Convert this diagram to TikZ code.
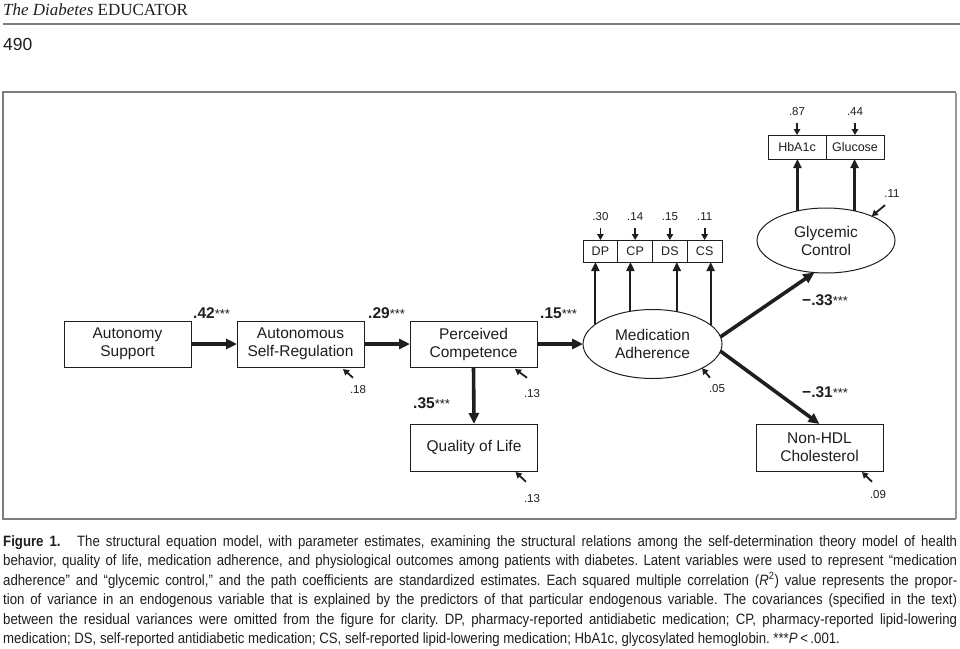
\documentclass[tikz,border=0pt]{standalone}
\usepackage{fontspec}
\setmainfont{Liberation Sans}
\newfontfamily\journalfont{Liberation Serif}
\newfontfamily\captionfont[FakeStretch=0.88]{Liberation Sans}
\usetikzlibrary{shapes.geometric,arrows.meta,positioning,calc}
\definecolor{ink}{RGB}{30,30,30}
\definecolor{rulegray}{RGB}{125,125,125}
\newcommand{\stars}{{\mdseries\fontsize{13}{13}\selectfont ***}}

\begin{document}
\begin{tikzpicture}[x=1pt,y=-1pt,font=\fontsize{15.5}{18}\selectfont]
\tikzset{b/.style={draw=ink,line width=1pt,minimum width=127pt,minimum height=46pt,align=center,text=ink,inner sep=0pt,outer sep=0pt},
  lv/.style={draw=ink,line width=1pt,ellipse,minimum width=139pt,minimum height=69pt,align=center,text=ink,inner sep=0pt,outer sep=0pt},
  ind/.style={draw=ink,line width=1pt,minimum width=34.75pt,minimum height=22pt,inner sep=0pt,outer sep=0pt,text=ink,font=\fontsize{12.5}{14}\selectfont},
  pth/.style={-{Triangle[length=11pt,width=10pt]},line width=3.6pt,ink},
  load/.style={-{Triangle[length=9pt,width=8pt]},line width=1.9pt,ink},
  res/.style={-{Triangle[length=6pt,width=6.5pt]},line width=1.8pt,ink},
  coef/.style={anchor=base west,inner sep=0pt,font=\bfseries\fontsize{15.5}{15.5}\selectfont,text=ink},
  err/.style={inner sep=0pt,font=\fontsize{11.5}{11.5}\selectfont,text=ink}}
\useasboundingbox (0,0) rectangle (960,648);

% page head
\node[anchor=base west,inner sep=0pt,font=\journalfont\fontsize{17}{17}\selectfont,text=ink] (jrnl) at (3,15) {\textit{The Diabetes} EDUCATOR};
\draw[rulegray,line width=1.5pt] (3,24) -- (960,24);
\node[anchor=base west,inner sep=0pt,font=\fontsize{17.5}{17.5}\selectfont,text=ink] (page) at (3,50.5) {490};
\draw[rulegray,line width=1.3pt] (3,92) rectangle (955.5,519);
\draw[rulegray!80,line width=2.2pt] (956,93) -- (956,519);

% model
\node[b] (as) at (127.5,344) {Autonomy\\Support};
\node[b] (asr) at (300.5,344) {Autonomous\\Self-Regulation};
\node[b] (pc) at (473.5,344) {Perceived\\Competence};
\node[lv] (ma) at (652.5,344) {Medication\\Adherence};
\node[b,minimum height=47pt] (qol) at (474,447.5) {Quality of Life};
\node[b,minimum height=47pt] (nhdl) at (819.5,447.5) {Non-HDL\\Cholesterol};
\node[lv,minimum width=138pt,minimum height=65pt] (gc) at (826,240.5) {Glycemic\\Control};

% indicators
\node[ind] (dp) at (600.4,251) {DP};
\node[ind,right=0pt of dp] (cp) {CP};
\node[ind,right=0pt of cp] (ds) {DS};
\node[ind,right=0pt of ds] (cs) {CS};
\node[ind,minimum width=58pt,minimum height=24pt] (hba) at (797,147) {HbA1c};
\node[ind,minimum width=58pt,minimum height=24pt,right=0pt of hba] (glu) {Glucose};

% paths
\draw[pth] (as) -- (asr);
\draw[pth] (asr) -- (pc);
\draw[pth] (pc) -- (ma);
\draw[pth] (pc.south) -- (qol.north);
\draw[pth] (ma.6) -- (gc.250);
\draw[pth] (ma.-6) -- (nhdl.north);
\node[coef] (c1) at (193,318) {.42\stars};
\node[coef] (c2) at (368,318) {.29\stars};
\node[coef] (c3) at (540,318) {.15\stars};
\node[coef] (c4) at (413,408) {.35\stars};
\node[coef] (c5) at (802,305) {−.33\stars};
\node[coef] (c6) at (802,397) {−.31\stars};

% loadings
\draw[load] (ma.161) -- (ma.161 |- dp.south);
\draw[load] (ma.124) -- (ma.124 |- cp.south);
\draw[load] (ma.53) -- (ma.53 |- ds.south);
\draw[load] (ma.18) -- (ma.18 |- cs.south);
\draw[load,line width=2.6pt] (gc.134) -- (gc.134 |- hba.south);
\draw[load,line width=2.6pt] (gc.46) -- (gc.46 |- glu.south);

% residuals
\node[err,above=19pt of dp] (edp) {.30};
\node[err,above=19pt of cp] (ecp) {.14};
\node[err,above=19pt of ds] (eds) {.15};
\node[err,above=19pt of cs] (ecs) {.11};
\node[err,above=19pt of hba] (ehba) {.87};
\node[err,above=19pt of glu] (eglu) {.44};
\draw[res,shorten <=7pt] (edp) -- (dp);
\draw[res,shorten <=7pt] (ecp) -- (cp);
\draw[res,shorten <=7pt] (eds) -- (ds);
\draw[res,shorten <=7pt] (ecs) -- (cs);
\draw[res,shorten <=7pt] (ehba) -- (hba);
\draw[res,shorten <=7pt] (eglu) -- (glu);
\node[err] (e1) at (358,390) {.18};
\node[err] (e2) at (532,394) {.13};
\node[err] (e3) at (717,389) {.05};
\node[err] (e4) at (532,499) {.13};
\node[err] (e5) at (878,495) {.09};
\node[err] (e6) at (892,194) {.11};
\draw[res] ([xshift=-5pt,yshift=8pt]e1.north) -- ([xshift=-21pt,yshift=-2pt]asr.south east);
\draw[res] ([xshift=-5pt,yshift=12pt]e2.north) -- ([xshift=-22pt,yshift=-2pt]pc.south east);
\draw[res] ([xshift=-7pt,yshift=7pt]e3.north) -- (ma.-26);
\draw[res] ([xshift=-6pt,yshift=13pt]e4.north) -- ([xshift=-22pt,yshift=-1pt]qol.south east);
\draw[res] ([xshift=-6pt,yshift=9pt]e5.north) -- ([xshift=-21pt,yshift=-1pt]nhdl.south east);
\draw[res] ([xshift=-7pt,yshift=-7pt]e6.south) -- (gc.28);

% caption
\node[anchor=north west,inner sep=0pt,text width=954pt,align=justify,text=ink,
  font=\captionfont\fontsize{15}{19.5}\selectfont] (cap) at (3,535) {\hyphenpenalty=10000\exhyphenpenalty=10000\frenchspacing
{\bfseries Figure 1.}\hspace{1.1em}The structural equation model, with parameter estimates, examining the structural relations among the self-determination theory model of health\linebreak
behavior, quality of life, medication adherence, and physiological outcomes among patients with diabetes. Latent variables were used to represent “medication\linebreak
adherence” and “glycemic control,” and the path coefficients are standardized estimates. Each squared multiple correlation (\textit{R}\textsuperscript{2}) value represents the propor-\linebreak
tion of variance in an endogenous variable that is explained by the predictors of that particular endogenous variable. The covariances (specified in the text)\linebreak
between the residual variances were omitted from the figure for clarity. DP, pharmacy-reported antidiabetic medication; CP, pharmacy-reported lipid-lowering\linebreak
medication; DS, self-reported antidiabetic medication; CS, self-reported lipid-lowering medication; HbA1c, glycosylated hemoglobin. ***\textit{P}\,<\,.001.};
\end{tikzpicture}
\end{document}
